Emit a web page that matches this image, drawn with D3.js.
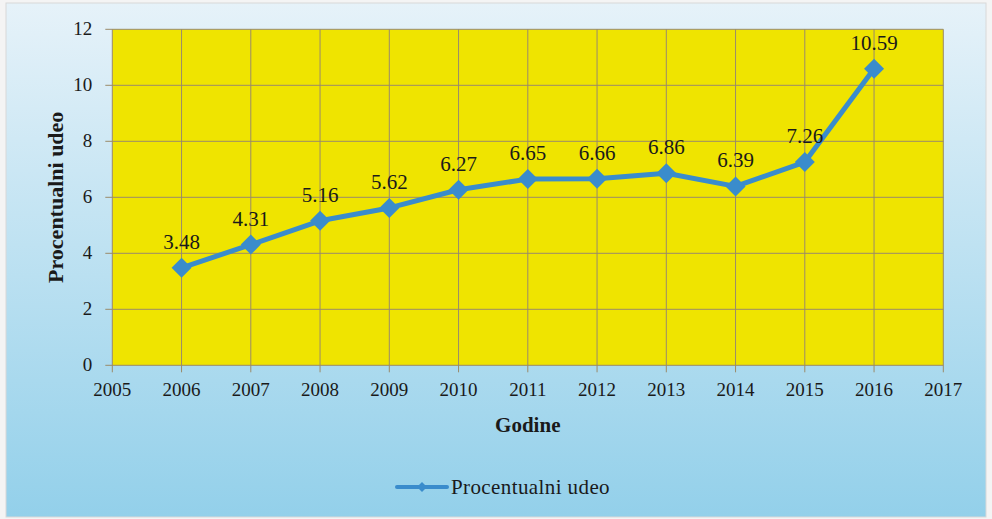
<!DOCTYPE html>
<html><head><meta charset="utf-8">
<script src="https://cdn.jsdelivr.net/npm/d3@7"></script>
<style>html,body{margin:0;padding:0;background:#fff;}svg{display:block;}</style>
</head><body>
<svg id="c" width="992" height="519"></svg>
<script>
const years = [2006, 2007, 2008, 2009, 2010, 2011, 2012, 2013, 2014, 2015, 2016];
const values = [3.48, 4.31, 5.16, 5.62, 6.27, 6.65, 6.66, 6.86, 6.39, 7.26, 10.59];
const labels = ["3.48","4.31","5.16","5.62","6.27","6.65","6.66","6.86","6.39","7.26","10.59"];
const xTicks = [2005,2006,2007,2008,2009,2010,2011,2012,2013,2014,2015,2016,2017];
const yTicks = [0,2,4,6,8,10,12];
const seriesName = "Procentualni udeo";
const xTitle = "Godine";
const yTitle = "Procentualni udeo";

const svg = d3.select("#c");
const font = "'Liberation Serif','Times New Roman',serif";
const defs = svg.append("defs");
const g = defs.append("linearGradient").attr("id","bg").attr("x1",0).attr("y1",0).attr("x2",0).attr("y2",1);
g.append("stop").attr("offset","0%").attr("stop-color","#e6f2f9");
g.append("stop").attr("offset","100%").attr("stop-color","#93d0ea");

svg.append("rect").attr("x",0).attr("y",0).attr("width",992).attr("height",519).attr("fill","#f4f4f4");
svg.append("rect").attr("x",6).attr("y",3).attr("width",980).attr("height",514).attr("fill","url(#bg)").attr("stroke","#d8d8d8").attr("stroke-width",1);

const x = d3.scaleLinear().domain([2005,2017]).range([112.3,943.3]);
const y = d3.scaleLinear().domain([0,12]).range([365.3,29.3]);

svg.append("rect").attr("x",x(2005)).attr("y",y(12)).attr("width",x(2017)-x(2005)).attr("height",y(0)-y(12)).attr("fill","#efe400");

const grid = svg.append("g").attr("stroke","#9a8a6a").attr("stroke-width",1);
grid.selectAll("line.h").data(yTicks).join("line").attr("x1",x(2005)-7).attr("x2",x(2017)).attr("y1",d=>y(d)).attr("y2",d=>y(d));
grid.selectAll("line.v").data(xTicks).join("line").attr("y1",y(12)).attr("y2",y(0)+7).attr("x1",d=>x(d)).attr("x2",d=>x(d));

svg.append("g").selectAll("text").data(yTicks).join("text")
  .attr("x",x(2005)-20).attr("y",d=>y(d)+6).attr("text-anchor","end")
  .attr("font-family",font).attr("font-size",19).attr("fill","#1a1a1a").text(d=>d);
svg.append("g").selectAll("text").data(xTicks).join("text")
  .attr("x",d=>x(d)).attr("y",y(0)+31).attr("text-anchor","middle")
  .attr("font-family",font).attr("font-size",19).attr("fill","#1a1a1a").text(d=>d);

svg.append("text").attr("x",(x(2005)+x(2017))/2).attr("y",432).attr("text-anchor","middle")
  .attr("font-family",font).attr("font-size",21).attr("font-weight","bold").attr("fill","#1a1a1a").text(xTitle);
svg.append("text").attr("transform",`translate(63,${(y(0)+y(12))/2}) rotate(-90)`).attr("text-anchor","middle")
  .attr("font-family",font).attr("font-size",22).attr("font-weight","bold").attr("fill","#1a1a1a").text(yTitle);

const data = years.map((d,i)=>({year:d,value:values[i],label:labels[i]}));
const lineColor = "#3a8ccc";
svg.append("path").datum(data).attr("fill","none").attr("stroke",lineColor).attr("stroke-width",5)
  .attr("stroke-linejoin","round").attr("d",d3.line().x(d=>x(d.year)).y(d=>y(d.value)));
const diamond = d3.symbol().type(d3.symbolSquare).size(200);
svg.append("g").selectAll("path").data(data).join("path")
  .attr("d",diamond).attr("fill",lineColor)
  .attr("transform",d=>`translate(${x(d.year)},${y(d.value)}) rotate(45)`);
svg.append("g").selectAll("text").data(data).join("text")
  .attr("x",d=>x(d.year)).attr("y",d=>y(d.value)-19).attr("text-anchor","middle")
  .attr("font-family",font).attr("font-size",21).attr("fill","#1a1a1a").text(d=>d.label);

// legend
const lg = svg.append("g");
lg.append("line").attr("x1",397).attr("x2",447).attr("y1",487).attr("y2",487).attr("stroke",lineColor).attr("stroke-width",4).attr("stroke-linecap","round");
lg.append("path").attr("d",d3.symbol().type(d3.symbolSquare).size(50)).attr("fill",lineColor).attr("transform","translate(422,487) rotate(45)");
lg.append("text").attr("x",451).attr("y",494).attr("font-family",font).attr("font-size",21).attr("letter-spacing","0.4").attr("fill","#1a1a1a").text(seriesName);
</script>
</body></html>
